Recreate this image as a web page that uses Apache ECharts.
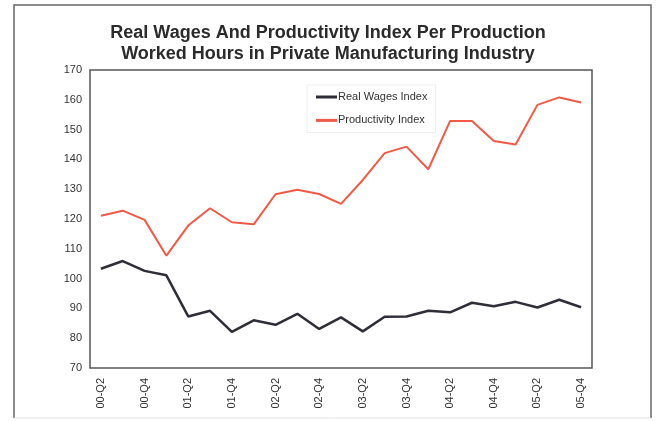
<!DOCTYPE html>
<html>
<head>
<meta charset="utf-8">
<script src="https://cdn.jsdelivr.net/npm/echarts@6/dist/echarts.min.js"></script>
<style>
  html, body { margin: 0; padding: 0; background: #fff; }
  #chart { width: 656px; height: 421px; }
</style>
</head>
<body>
<div id="chart"></div>
<script>
  // quarters 2000-Q2 .. 2005-Q4
  const quarters = ['00-Q2', '00-Q3', '00-Q4', '01-Q1', '01-Q2', '01-Q3', '01-Q4', '02-Q1', '02-Q2', '02-Q3', '02-Q4',
    '03-Q1', '03-Q2', '03-Q3', '03-Q4', '04-Q1', '04-Q2', '04-Q3', '04-Q4', '05-Q1', '05-Q2', '05-Q3', '05-Q4'];
  const realWages = [103.3, 105.9, 102.6, 101.1, 87.3, 89.2, 82.1, 86.0, 84.5, 88.2, 83.1,
    87.0, 82.3, 87.2, 87.3, 89.2, 88.7, 91.9, 90.7, 92.2, 90.3, 92.9, 90.4];
  const productivity = [121.1, 122.8, 119.7, 107.7, 117.8, 123.6, 118.9, 118.2, 128.3, 129.8, 128.4,
    125.1, 133.1, 142.1, 144.3, 136.7, 152.9, 152.9, 146.2, 145.0, 158.3, 160.8, 159.1];
  const yTicks = {min: 70, max: 170, step: 10};

  const myChart = echarts.init(document.getElementById('chart'));
  const font = 'Arial, "Liberation Sans", sans-serif';

  const option = {
    animation: false,
    title: {
      text: 'Real Wages And Productivity Index Per Production\nWorked Hours in Private Manufacturing Industry',
      left: 'center',
      top: 18,
      textStyle: {
        fontFamily: font,
        fontSize: 18,
        fontWeight: 'bold',
        lineHeight: 21,
        color: '#2b2b2b'
      }
    },
    legend: {
      orient: 'vertical',
      left: 307,
      top: 85,
      padding: [5, 8, 5, 9],
      borderColor: '#eeeeee',
      borderWidth: 1,
      icon: 'rect',
      itemWidth: 21,
      itemHeight: 3,
      itemGap: 9.4,
      textStyle: {
        fontFamily: font,
        fontSize: 11,
        lineHeight: 14,
        color: '#333',
        padding: [0, 0, 0, -4]
      },
      data: ['Real Wages Index', 'Productivity Index']
    },
    grid: {
      left: 90,
      right: 64,
      top: 70,
      bottom: 53,
      show: true,
      borderColor: '#555',
      borderWidth: 1.5
    },
    xAxis: {
      type: 'category',
      data: quarters,
      boundaryGap: true,
      axisLine: {show: false},
      axisTick: {show: false},
      axisLabel: {
        rotate: 90,
        interval: 1,
        margin: 10,
        fontFamily: font,
        fontSize: 11,
        color: '#333'
      }
    },
    yAxis: {
      type: 'value',
      min: yTicks.min,
      max: yTicks.max,
      interval: yTicks.step,
      axisLine: {show: false},
      axisTick: {show: false},
      splitLine: {show: false},
      axisLabel: {
        margin: 8,
        fontFamily: font,
        fontSize: 11,
        color: '#333'
      }
    },
    series: [
      {
        name: 'Real Wages Index',
        type: 'line',
        data: realWages,
        showSymbol: false,
        lineStyle: {width: 2.5, color: '#2e2e38'},
        itemStyle: {color: '#2e2e38'}
      },
      {
        name: 'Productivity Index',
        type: 'line',
        data: productivity,
        showSymbol: false,
        lineStyle: {width: 2, color: '#f05a46'},
        itemStyle: {color: '#f05a46'}
      }
    ],
    graphic: [
      {
        type: 'polyline',
        shape: {points: [[14, 418], [14, 5], [651, 5], [651, 418]]},
        style: {stroke: '#666', lineWidth: 1.5, fill: null},
        silent: true
      },
      {
        type: 'line',
        shape: {x1: 14, y1: 418, x2: 651, y2: 418},
        style: {stroke: '#e4e4e4', lineWidth: 1},
        silent: true
      }
    ]
  };
  myChart.setOption(option);
</script>
</body>
</html>
